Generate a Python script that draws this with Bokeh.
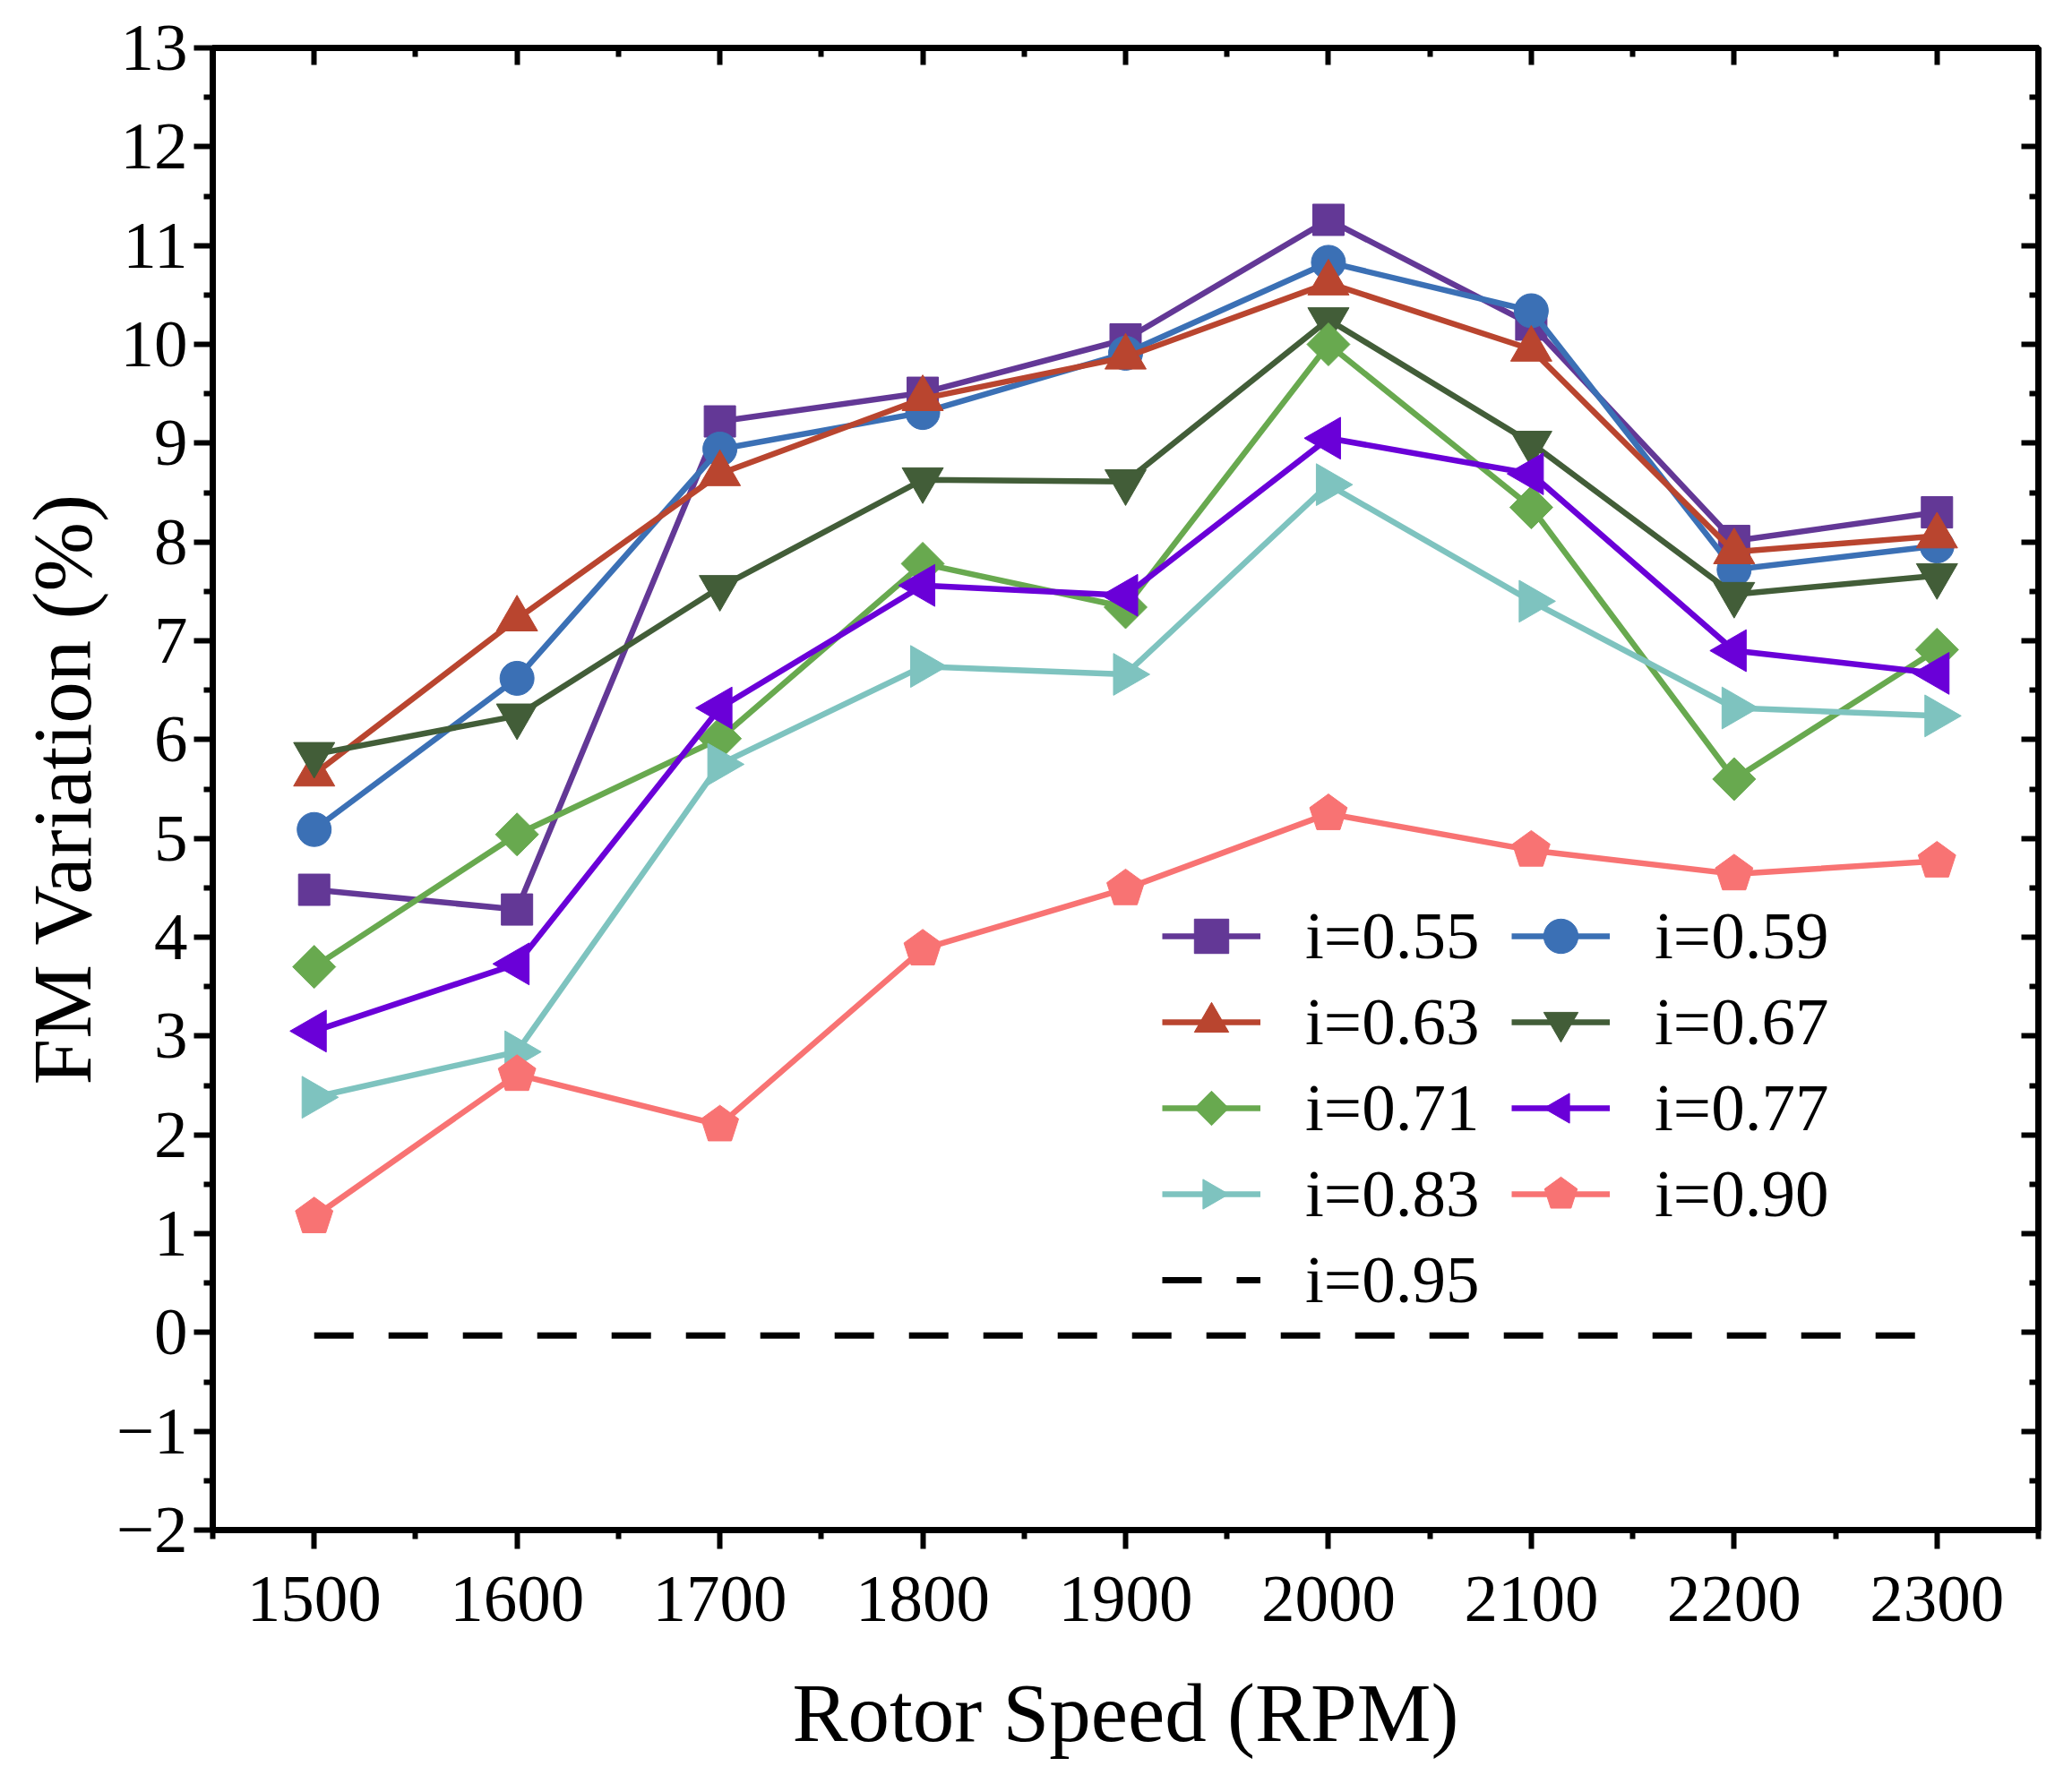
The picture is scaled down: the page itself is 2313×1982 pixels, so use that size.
import math
from bokeh.plotting import figure
from bokeh.models import LinearAxis, FixedTicker, Legend, LegendItem, Range1d
from bokeh.embed import file_html
from bokeh.resources import INLINE

# ---------------- data ----------------
rpm = [1500, 1600, 1700, 1800, 1900, 2000, 2100, 2200, 2300]

fm_055 = [4.48, 4.28, 9.22, 9.51, 10.05, 11.26, 10.20, 8.01, 8.30]
fm_059 = [5.09, 6.62, 8.94, 9.31, 9.91, 10.83, 10.34, 7.72, 7.96]
fm_063 = [5.65, 7.22, 8.69, 9.45, 9.87, 10.62, 9.95, 7.90, 8.06]
fm_067 = [5.85, 6.24, 7.54, 8.63, 8.61, 10.25, 9.00, 7.47, 7.66]
fm_071 = [3.70, 5.04, 6.01, 7.78, 7.34, 10.00, 8.35, 5.60, 6.91]
fm_077 = [3.05, 3.73, 6.32, 7.56, 7.46, 9.05, 8.69, 6.90, 6.67]
fm_083 = [2.38, 2.84, 5.75, 6.74, 6.66, 8.58, 7.40, 6.32, 6.24]
fm_090 = [1.17, 2.61, 2.10, 3.88, 4.49, 5.25, 4.88, 4.64, 4.77]
fm_095 = [-0.03, -0.03, -0.03, -0.03, -0.03, -0.03, -0.03, -0.03, -0.03]

series_labels = ["i=0.55", "i=0.59", "i=0.63", "i=0.67", "i=0.71",
                 "i=0.77", "i=0.83", "i=0.90", "i=0.95"]

x_ticks = [1500, 1600, 1700, 1800, 1900, 2000, 2100, 2200, 2300]
x_minor = [1450, 1550, 1650, 1750, 1850, 1950, 2050, 2150, 2250, 2350]
y_ticks = [-2, -1, 0, 1, 2, 3, 4, 5, 6, 7, 8, 9, 10, 11, 12, 13]
y_minor = [-1.5, -0.5, 0.5, 1.5, 2.5, 3.5, 4.5, 5.5, 6.5, 7.5, 8.5, 9.5,
           10.5, 11.5, 12.5]
y_tick_labels = {-2: "\u22122", -1: "\u22121"}

x_title = "Rotor Speed (RPM)"
y_title = "FM Variation (%)"

# ---------------- styling ----------------
FONT = "Liberation Serif"
colors = ["#633896", "#3B70B5", "#B9452F", "#425D38", "#68A94F",
          "#6A00D8", "#7EC3BF", "#F87373"]

p = figure(width=2297, height=1966,
           x_range=Range1d(1450, 2350), y_range=Range1d(-2, 13),
           output_backend="svg", toolbar_location=None,
           min_border_left=237, min_border_right=22,
           min_border_top=53, min_border_bottom=258)
p.xgrid.visible = False
p.ygrid.visible = False
p.outline_line_color = "black"
p.outline_line_width = 7
p.background_fill_color = "white"
p.border_fill_color = "white"

xt = FixedTicker(ticks=x_ticks, minor_ticks=x_minor)
yt = FixedTicker(ticks=y_ticks, minor_ticks=y_minor)


def style_main(ax):
    ax.axis_line_width = 7
    ax.axis_line_color = "black"
    ax.major_tick_line_width = 6
    ax.minor_tick_line_width = 6
    ax.major_tick_out, ax.major_tick_in = 21, 0
    ax.minor_tick_out, ax.minor_tick_in = 10, 0
    ax.major_label_text_font = FONT
    ax.major_label_text_font_size = "75px"
    ax.major_label_text_color = "black"
    ax.axis_label_text_font = FONT
    ax.axis_label_text_font_size = "93px"
    ax.axis_label_text_font_style = "normal"
    ax.axis_label_text_color = "black"


def mirror_axis(positions, length, side):
    # label-free axis: every tick is drawn as an inward "minor" tick
    ax = LinearAxis(ticker=FixedTicker(ticks=[], minor_ticks=positions))
    ax.axis_line_width = 7
    ax.axis_line_color = "black"
    ax.major_tick_out = 0
    ax.major_tick_in = 0
    ax.minor_tick_out = 0
    ax.minor_tick_in = length
    ax.minor_tick_line_width = 6
    ax.major_label_standoff = 0
    ax.axis_label_standoff = 0
    p.add_layout(ax, side)


xa = p.xaxis[0]
xa.ticker = xt
style_main(xa)
xa.major_label_standoff = 31
xa.axis_label = x_title
xa.axis_label_standoff = 48

ya = p.yaxis[0]
ya.ticker = yt
style_main(ya)
ya.major_label_standoff = 7
ya.major_label_overrides = y_tick_labels
ya.axis_label = y_title
ya.axis_label_standoff = 6

mirror_axis(x_ticks, 19, "above")
mirror_axis(x_minor, 10, "above")
mirror_axis(y_ticks, 19, "right")
mirror_axis(y_minor, 10, "right")

# ---------------- series ----------------
values = [fm_055, fm_059, fm_063, fm_067, fm_071, fm_077, fm_083, fm_090]
# (kind, marker/ngon sides, size or radius, angle)
markers = [("scatter", "square", 35, 0.0),
           ("scatter", "circle", 38, 0.0),
           ("scatter", "triangle", 46, 0.0),
           ("scatter", "inverted_triangle", 46, 0.0),
           ("ngon", 4, 24, 0.0),
           ("ngon", 3, 27, math.pi / 2),
           ("ngon", 3, 27, -math.pi / 2),
           ("ngon", 5, 22, 0.0)]
fallback = {4: ("diamond", 48, 0.0), 3: ("triangle", 46, None), 5: ("hex", 40, 0.0)}

has_ngon = hasattr(p, "ngon")
item_map = {}
for lab, vals, col, (kind, mk, sz, ang) in zip(series_labels, values, colors, markers):
    lr = p.line(rpm, vals, line_color=col, line_width=6.5)
    if kind == "ngon" and has_ngon:
        mr = p.ngon(x=rpm, y=vals, radius=sz, radius_units="screen", n=mk,
                    angle=ang, fill_color=col, line_color=col, line_width=1)
    elif kind == "ngon":
        fm, fs, fa = fallback[mk]
        mr = p.scatter(rpm, vals, marker=fm, size=fs,
                       angle=ang if fa is None else fa,
                       fill_color=col, line_color=col)
    else:
        mr = p.scatter(rpm, vals, marker=mk, size=sz, angle=ang,
                       fill_color=col, line_color=col, line_width=1)
    item_map[lab] = [lr, mr]

dr = p.line(rpm, fm_095, line_color="black", line_width=7, line_dash="44 39")
item_map[series_labels[8]] = [dr]

order = ["i=0.55", "i=0.63", "i=0.71", "i=0.83", "i=0.95",
         "i=0.59", "i=0.67", "i=0.77", "i=0.90"]
legend = Legend(items=[LegendItem(label=l, renderers=item_map[l]) for l in order],
                location=(1060, 231), orientation="vertical", ncols=2,
                glyph_width=110, glyph_height=96, label_standoff=50,
                label_width=230, label_height=96, spacing=0,
                padding=0, margin=0, border_line_alpha=0,
                background_fill_alpha=0,
                label_text_font=FONT, label_text_font_size="75px",
                label_text_color="black")
p.add_layout(legend, "center")

open("out.html", "w").write(file_html(p, INLINE))
